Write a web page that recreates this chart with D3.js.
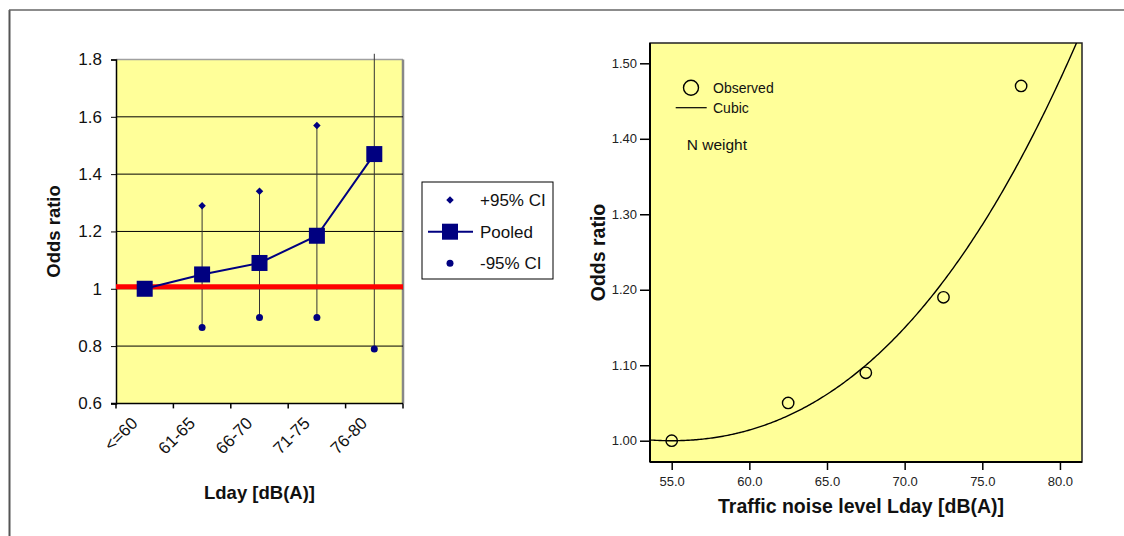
<!DOCTYPE html>
<html>
<head>
<meta charset="utf-8">
<script src="https://cdn.jsdelivr.net/npm/d3@7"></script>
<style>
  html, body { margin: 0; padding: 0; background: #fff; }
  svg { display: block; font-family: "Liberation Sans", Arial, sans-serif; }
</style>
</head>
<body>
<svg id="chart" width="1124" height="536"></svg>
<script>
// ---- Left panel: pooled odds ratios by Lday class ----
const categories = ["<=60", "61-65", "66-70", "71-75", "76-80"];
const pooled     = [1.00, 1.05, 1.09, 1.185, 1.47];
const upperCI    = [null, 1.29, 1.34, 1.57, 1.82];
const lowerCI    = [null, 0.865, 0.90, 0.90, 0.79];
const leftTicks  = [0.6, 0.8, 1, 1.2, 1.4, 1.6, 1.8];
const referenceOR = 1.0;

// ---- Right panel: observed odds ratios and cubic fit ----
const noiseLevel   = [55.0, 62.5, 67.5, 72.5, 77.5];
const observedOR   = [1.00, 1.05, 1.09, 1.19, 1.47];
const rightYTicks  = [1.00, 1.10, 1.20, 1.30, 1.40, 1.50];
const rightXTicks  = [55, 60, 65, 70, 75, 80];
// cubic fit: OR = c0 + c1*t + c2*t^2 + c3*t^3, with t = Lday - 55
const cubicCentre = 55;
const cubicCoef   = [1.0, 0.0, 0.000515, 0.00001];

const svg = d3.select("#chart");
const NAVY = "#000080";
const YELLOW = "#ffff99";

// outer frame (left and top edges)
svg.append("line").attr("x1", 9.5).attr("x2", 9.5).attr("y1", 10).attr("y2", 536)
  .attr("stroke", "#555").attr("stroke-width", 2);
svg.append("line").attr("x1", 9).attr("x2", 1124).attr("y1", 10).attr("y2", 10)
  .attr("stroke", "#666").attr("stroke-width", 1.5);

// ================= LEFT PANEL =================
const L = { left: 116, right: 403, top: 59.5, bottom: 403.4 };
const xL = d3.scaleBand().domain(categories).range([L.left, L.right]);
const yL = d3.scaleLinear().domain([0.6, 1.8]).range([L.bottom, L.top]);
const gL = svg.append("g");

gL.append("rect").attr("x", L.left).attr("y", L.top)
  .attr("width", L.right - L.left).attr("height", L.bottom - L.top)
  .attr("fill", YELLOW);
// plot area border (top & right, gray)
gL.append("line").attr("x1", L.left).attr("x2", L.right).attr("y1", L.top).attr("y2", L.top)
  .attr("stroke", "#a0a0a0").attr("stroke-width", 1.5);
gL.append("line").attr("x1", L.right).attr("x2", L.right).attr("y1", L.top).attr("y2", L.bottom)
  .attr("stroke", "#888").attr("stroke-width", 2.5);

// gridlines
gL.selectAll("line.grid").data(leftTicks.filter(v => v > 0.6 && v < 1.8)).join("line")
  .attr("class", "grid")
  .attr("x1", L.left).attr("x2", L.right)
  .attr("y1", d => yL(d)).attr("y2", d => yL(d))
  .attr("stroke", "#000").attr("stroke-width", 1);

// y axis
const yAxisL = d3.axisLeft(yL).tickValues(leftTicks).tickSize(5).tickPadding(9)
  .tickFormat(d => d3.format("")(+d.toFixed(1)));
const yAxG = gL.append("g").attr("transform", `translate(${L.left},0)`).call(yAxisL);
yAxG.select(".domain").attr("stroke", "#000").attr("stroke-width", 1.5);
yAxG.selectAll("text").attr("font-size", 17).attr("fill", "#111")
  .attr("font-family", "'Liberation Sans', Arial, sans-serif");

// x axis: ticks on category boundaries
const boundaries = categories.map(c => xL(c)).concat([xL(categories[categories.length - 1]) + xL.bandwidth()]);
gL.append("line").attr("x1", L.left - 5).attr("x2", L.right).attr("y1", L.bottom).attr("y2", L.bottom)
  .attr("stroke", "#000").attr("stroke-width", 1.5);
gL.selectAll("line.xtick").data(boundaries).join("line").attr("class", "xtick")
  .attr("x1", d => d).attr("x2", d => d).attr("y1", L.bottom).attr("y2", L.bottom + 5)
  .attr("stroke", "#000").attr("stroke-width", 1.5);
gL.selectAll("text.xlab").data(categories).join("text").attr("class", "xlab")
  .attr("transform", d => `translate(${xL(d) + xL.bandwidth() / 2 - 6},${L.bottom + 21}) rotate(-45)`)
  .attr("text-anchor", "end").attr("font-size", 17).attr("fill", "#111")
  .text(d => d);

// CI lines
const cx = d => xL(d) + xL.bandwidth() / 2;
const ciData = categories.map((c, i) => ({ c, lo: lowerCI[i], hi: upperCI[i] })).filter(d => d.lo != null);
gL.selectAll("line.ci").data(ciData).join("line").attr("class", "ci")
  .attr("x1", d => cx(d.c)).attr("x2", d => cx(d.c))
  .attr("y1", d => yL(d.lo)).attr("y2", d => yL(d.hi))
  .attr("stroke", "#333").attr("stroke-width", 1);

// red reference line at OR = 1
gL.append("line").attr("x1", L.left).attr("x2", L.right)
  .attr("y1", yL(referenceOR) - 2).attr("y2", yL(referenceOR) - 2)
  .attr("stroke", "#ff0000").attr("stroke-width", 5);

// pooled line + squares
const lineL = d3.line().x((d, i) => cx(categories[i])).y(d => yL(d));
gL.append("path").datum(pooled).attr("d", lineL)
  .attr("fill", "none").attr("stroke", NAVY).attr("stroke-width", 2);
const SQ = 16;
gL.selectAll("rect.pooled").data(pooled).join("rect").attr("class", "pooled")
  .attr("x", (d, i) => cx(categories[i]) - SQ / 2).attr("y", d => yL(d) - SQ / 2)
  .attr("width", SQ).attr("height", SQ).attr("fill", NAVY);

// upper CI diamonds (only where inside the axis range): square rotated 45 degrees
const diamond = d3.symbol().type(d3.symbolSquare).size(28);
gL.selectAll("path.upper").data(ciData.filter(d => d.hi <= yL.domain()[1])).join("path").attr("class", "upper")
  .attr("transform", d => `translate(${cx(d.c)},${yL(d.hi)}) rotate(45)`)
  .attr("d", diamond).attr("fill", NAVY);
// lower CI dots
gL.selectAll("circle.lower").data(ciData).join("circle").attr("class", "lower")
  .attr("cx", d => cx(d.c)).attr("cy", d => yL(d.lo)).attr("r", 3.5).attr("fill", NAVY);

// axis titles
gL.append("text").attr("transform", `translate(60,${(L.top + L.bottom) / 2}) rotate(-90)`)
  .attr("text-anchor", "middle").attr("font-size", 18.5).attr("font-weight", "bold").attr("fill", "#111")
  .text("Odds ratio");
gL.append("text").attr("x", (L.left + L.right) / 2).attr("y", 499)
  .attr("text-anchor", "middle").attr("font-size", 18.5).attr("font-weight", "bold").attr("fill", "#111")
  .text("Lday [dB(A)]");

// legend
const lg = svg.append("g");
lg.append("rect").attr("x", 422).attr("y", 182).attr("width", 131).attr("height", 97)
  .attr("fill", "#fff").attr("stroke", "#000").attr("stroke-width", 1);
const legendRows = [
  { label: "+95% CI", y: 200, kind: "diamond" },
  { label: "Pooled", y: 231.7, kind: "square" },
  { label: "-95% CI", y: 263.3, kind: "dot" }
];
legendRows.forEach(r => {
  if (r.kind === "diamond") {
    lg.append("path").attr("transform", `translate(450,${r.y}) rotate(45)`).attr("d", diamond).attr("fill", NAVY);
  } else if (r.kind === "square") {
    lg.append("line").attr("x1", 428).attr("x2", 473).attr("y1", r.y).attr("y2", r.y)
      .attr("stroke", NAVY).attr("stroke-width", 2);
    lg.append("rect").attr("x", 450 - SQ / 2).attr("y", r.y - SQ / 2).attr("width", SQ).attr("height", SQ)
      .attr("fill", NAVY);
  } else {
    lg.append("circle").attr("cx", 450).attr("cy", r.y).attr("r", 3.5).attr("fill", NAVY);
  }
  lg.append("text").attr("x", 480).attr("y", r.y + 6).attr("font-size", 17).attr("fill", "#111").text(r.label);
});

// ================= RIGHT PANEL =================
const R = { left: 650, right: 1082, top: 43, bottom: 462 };
const xR = d3.scaleLinear().domain([53.603, 81.42]).range([R.left, R.right]);
const yR = d3.scaleLinear().domain([0.9718, 1.5269]).range([R.bottom, R.top]);
const gR = svg.append("g");

gR.append("rect").attr("x", R.left).attr("y", R.top)
  .attr("width", R.right - R.left).attr("height", R.bottom - R.top)
  .attr("fill", YELLOW).attr("stroke", "#222").attr("stroke-width", 1.5);

svg.append("defs").append("clipPath").attr("id", "clipR")
  .append("rect").attr("x", R.left).attr("y", R.top)
  .attr("width", R.right - R.left).attr("height", R.bottom - R.top);

// axes
const yAxisR = d3.axisLeft(yR).tickValues(rightYTicks).tickSize(10).tickPadding(3).tickFormat(d3.format(".2f"));
const yRG = gR.append("g").attr("transform", `translate(${R.left},0)`).call(yAxisR);
yRG.select(".domain").remove();
yRG.selectAll("line").attr("stroke", "#000").attr("stroke-width", 1.5);
yRG.selectAll("text").attr("font-size", 13).attr("fill", "#222")
  .attr("font-family", "'Liberation Sans', Arial, sans-serif");

const xAxisR = d3.axisBottom(xR).tickValues(rightXTicks).tickSize(8).tickPadding(7).tickFormat(d3.format(".1f"));
const xRG = gR.append("g").attr("transform", `translate(0,${R.bottom})`).call(xAxisR);
xRG.select(".domain").remove();
xRG.selectAll("line").attr("stroke", "#000").attr("stroke-width", 1.5);
xRG.selectAll("text").attr("font-size", 13).attr("fill", "#222")
  .attr("font-family", "'Liberation Sans', Arial, sans-serif");

// left & bottom axis lines (heavier)
gR.append("line").attr("x1", R.left).attr("x2", R.left).attr("y1", R.top).attr("y2", R.bottom)
  .attr("stroke", "#000").attr("stroke-width", 2);
gR.append("line").attr("x1", R.left).attr("x2", R.right).attr("y1", R.bottom).attr("y2", R.bottom)
  .attr("stroke", "#000").attr("stroke-width", 2);

// cubic curve
const cubic = x => {
  const t = x - cubicCentre;
  return cubicCoef[0] + cubicCoef[1] * t + cubicCoef[2] * t * t + cubicCoef[3] * t * t * t;
};
const xs = d3.range(xR.domain()[0], xR.domain()[1] + 0.05, 0.1);
gR.append("path").datum(xs).attr("clip-path", "url(#clipR)")
  .attr("d", d3.line().x(d => xR(d)).y(d => yR(cubic(d))))
  .attr("fill", "none").attr("stroke", "#000").attr("stroke-width", 1.4);

// observed points
gR.selectAll("circle.obs").data(noiseLevel.map((x, i) => [x, observedOR[i]])).join("circle")
  .attr("class", "obs").attr("cx", d => xR(d[0])).attr("cy", d => yR(d[1])).attr("r", 5.7)
  .attr("fill", "none").attr("stroke", "#000").attr("stroke-width", 1.4);

// legend inside plot
gR.append("circle").attr("cx", 691).attr("cy", 87.7).attr("r", 7.5)
  .attr("fill", "none").attr("stroke", "#000").attr("stroke-width", 1.4);
gR.append("text").attr("x", 713).attr("y", 92.5).attr("font-size", 14).attr("fill", "#111").text("Observed");
gR.append("line").attr("x1", 675.7).attr("x2", 706.7).attr("y1", 107.7).attr("y2", 107.7)
  .attr("stroke", "#000").attr("stroke-width", 1.2);
gR.append("text").attr("x", 713).attr("y", 113).attr("font-size", 14).attr("fill", "#111").text("Cubic");
gR.append("text").attr("x", 686.7).attr("y", 150).attr("font-size", 15.5).attr("fill", "#111").text("N weight");

// axis titles
gR.append("text").attr("transform", `translate(605,${(R.top + R.bottom) / 2}) rotate(-90)`)
  .attr("text-anchor", "middle").attr("font-size", 19.5).attr("font-weight", "bold").attr("fill", "#111")
  .text("Odds ratio");
gR.append("text").attr("x", 861).attr("y", 512.7)
  .attr("text-anchor", "middle").attr("font-size", 19.5).attr("font-weight", "bold").attr("fill", "#111")
  .text("Traffic noise level Lday [dB(A)]");
</script>
</body>
</html>
